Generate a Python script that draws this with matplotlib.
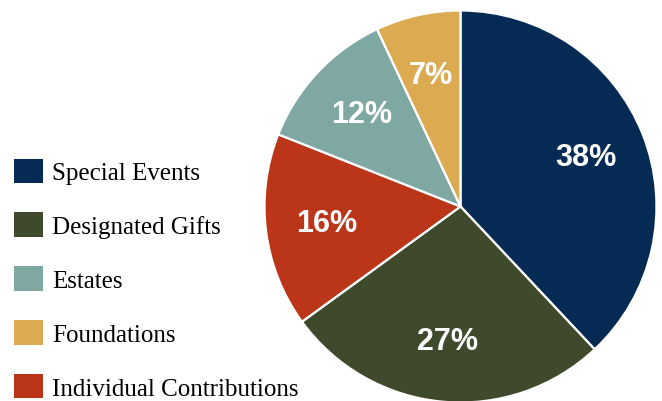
import matplotlib
matplotlib.use("Agg")
import matplotlib.pyplot as plt
from matplotlib.patches import Patch

# slices, clockwise from 12 o'clock
slice_names = ["Special Events", "Designated Gifts", "Individual Contributions", "Estates", "Foundations"]
slice_values = [38, 27, 16, 12, 7]
slice_colors = ["#052b55", "#3f4a2d", "#bb3519", "#7fa8a3", "#dcab51"]

# legend order as in the original
legend_names = ["Special Events", "Designated Gifts", "Estates", "Foundations", "Individual Contributions"]

fig = plt.figure(figsize=(6.62, 4.02), dpi=100)
W, H = 662, 402
cx, cy, r = 460.5, 207.5, 196
ax = fig.add_axes([(cx - r) / W, (H - cy - r) / H, 2 * r / W, 2 * r / H])

wedges, texts, autotexts = ax.pie(
    slice_values, colors=slice_colors, startangle=90, counterclock=False,
    autopct=lambda p: f"{p:.0f}%", pctdistance=0.69, radius=1,
    wedgeprops=dict(edgecolor="white", linewidth=1.6),
    textprops=dict(color="white", fontsize=22, fontweight="bold", family="Liberation Sans"),
)
ax.set_xlim(-1, 1)
ax.set_ylim(-1, 1)
ax.set_aspect("equal")
ax.axis("off")

color_of = dict(zip(slice_names, slice_colors))
handles = [Patch(facecolor=color_of[n], edgecolor="none") for n in legend_names]
fig.legend(handles, legend_names, loc="center left",
           bbox_to_anchor=(14 / W, (H - 280) / H),
           frameon=False, borderpad=0, borderaxespad=0,
           handlelength=1.14, handleheight=1.14, handletextpad=0.4,
           labelspacing=1.12,
           prop=dict(family="Liberation Serif", size=18))

fig.savefig("out.png", dpi=100)
